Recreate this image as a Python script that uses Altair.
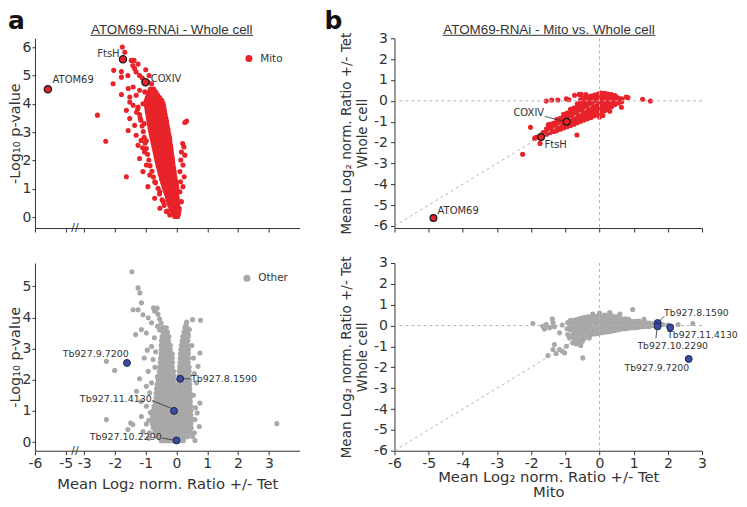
import altair as alt
import pandas as pd

RED = "#e8232a"
GRAY = "#a8a8a8"
BLUE = "#3a4ca0"
INK = "#333333"
FONT = "DejaVu Sans"
TFONT = "Liberation Sans"

# ---------------- panel a, top: Mito proteins, whole cell volcano ----------------
# rows: (-log10 p, [mean log2 ratio ...])
TL_ROWS = [
    (0.03, [-0.06, -0.01, 0.04]),
    (0.12, [-0.1, -0.04, 0.02, 0.07]),
    (0.22, [-0.14, -0.08, -0.02, 0.04, 0.08, -0.3]),
    (0.32, [-0.18, -0.12, -0.06, 0.0, 0.06]),
    (0.42, [-0.22, -0.15, -0.09, -0.03, 0.03, -0.4]),
    (0.52, [-0.25, -0.18, -0.12, -0.06, 0.0, 0.05]),
    (0.62, [-0.28, -0.21, -0.15, -0.09, -0.03, 0.03, -0.47]),
    (0.72, [-0.3, -0.23, -0.17, -0.11, -0.05, 0.02]),
    (0.82, [-0.33, -0.26, -0.19, -0.13, -0.07, 0.01, -0.55]),
    (0.92, [-0.36, -0.29, -0.22, -0.15, -0.08, -0.01]),
    (1.02, [-0.39, -0.32, -0.25, -0.18, -0.11, -0.04, 0.01, -0.6]),
    (1.12, [-0.42, -0.35, -0.28, -0.21, -0.14, -0.07, 0.0]),
    (1.22, [-0.45, -0.37, -0.3, -0.23, -0.16, -0.09, -0.02, -0.68]),
    (1.32, [-0.48, -0.4, -0.33, -0.26, -0.19, -0.11, -0.04]),
    (1.42, [-0.5, -0.42, -0.35, -0.28, -0.2, -0.13, -0.05, -0.75]),
    (1.52, [-0.53, -0.45, -0.37, -0.3, -0.22, -0.14, -0.07]),
    (1.62, [-0.55, -0.47, -0.39, -0.31, -0.24, -0.16, -0.08, -0.8]),
    (1.72, [-0.57, -0.49, -0.41, -0.33, -0.25, -0.17, -0.09]),
    (1.82, [-0.6, -0.51, -0.43, -0.35, -0.27, -0.19, -0.11, -0.86]),
    (1.92, [-0.62, -0.53, -0.45, -0.37, -0.29, -0.2, -0.12]),
    (2.02, [-0.64, -0.56, -0.47, -0.39, -0.3, -0.22, -0.13, -0.9]),
    (2.12, [-0.66, -0.58, -0.49, -0.41, -0.32, -0.23, -0.14]),
    (2.22, [-0.68, -0.6, -0.51, -0.42, -0.33, -0.25, -0.16, -0.94]),
    (2.32, [-0.7, -0.62, -0.53, -0.44, -0.35, -0.26, -0.17]),
    (2.42, [-0.72, -0.63, -0.54, -0.45, -0.36, -0.27, -0.18, -0.98]),
    (2.52, [-0.74, -0.65, -0.56, -0.47, -0.38, -0.29, -0.19]),
    (2.62, [-0.76, -0.67, -0.58, -0.49, -0.4, -0.3, -0.21, -1.02]),
    (2.72, [-0.78, -0.69, -0.6, -0.5, -0.41, -0.31, -0.22]),
    (2.82, [-0.8, -0.71, -0.61, -0.52, -0.42, -0.33, -0.23, -1.05]),
    (2.92, [-0.82, -0.72, -0.63, -0.53, -0.44, -0.34, -0.25]),
    (3.02, [-0.84, -0.74, -0.64, -0.55, -0.45, -0.36, -0.27, -1.08]),
    (3.12, [-0.86, -0.76, -0.66, -0.56, -0.47, -0.37, -0.28]),
    (3.22, [-0.87, -0.77, -0.67, -0.58, -0.48, -0.39, -0.3, -1.12]),
    (3.32, [-0.89, -0.79, -0.69, -0.59, -0.5, -0.4, -0.32]),
    (3.42, [-0.9, -0.8, -0.7, -0.61, -0.51, -0.42, -0.33, -1.16]),
    (3.52, [-0.92, -0.82, -0.72, -0.62, -0.53, -0.43, -0.35]),
    (3.62, [-0.93, -0.83, -0.73, -0.64, -0.54, -0.45, -0.37, -1.2]),
    (3.72, [-0.95, -0.85, -0.75, -0.65, -0.56, -0.47, -0.39]),
    (3.82, [-0.96, -0.86, -0.76, -0.67, -0.58, -0.49, -0.4, -1.26]),
    (3.92, [-0.98, -0.88, -0.78, -0.69, -0.6, -0.51, -0.42]),
    (4.02, [-1.0, -0.9, -0.8, -0.7, -0.61, -0.52, -0.44]),
    (4.12, [-0.98, -0.88, -0.78, -0.68, -0.58, -0.48]),
    (4.22, [-0.95, -0.85, -0.75, -0.65, -0.55]),
    (4.32, [-0.92, -0.82, -0.72, -0.62]),
    (4.42, [-0.88, -0.78, -0.68]),
    (4.52, [-0.85, -0.74]),
]
TL_EXTRA = [
    (-1.76, 6.0), (-1.68, 5.82), (-1.47, 5.53), (-1.38, 5.53), (-1.36, 5.24), (-2.04, 5.18),
    (-1.79, 5.14), (-2.06, 4.71), (-1.79, 4.94), (-1.31, 5.12), (-1.2, 5.0), (-1.11, 4.91),
    (-0.89, 5.0), (-0.93, 4.77), (-0.81, 4.71), (-1.79, 4.33), (-1.57, 4.54), (-1.41, 4.59),
    (-1.52, 4.24), (-1.31, 4.3), (-1.2, 4.48), (-1.03, 4.42), (-0.81, 4.48), (-0.71, 4.36),
    (-0.63, 4.28), (-0.56, 4.19), (-0.54, 4.06), (-1.52, 4.06), (-1.41, 3.95), (-1.25, 3.89),
    (-1.09, 4.0), (-2.57, 3.6), (-2.3, 2.68), (-1.63, 1.43), (0.33, 3.39), (0.27, 3.34),
    (0.2, 2.6), (0.24, 2.48), (0.16, 2.3), (0.27, 2.19), (0.14, 2.02), (0.21, 1.84),
    (0.11, 1.61), (0.25, 1.43), (0.13, 1.25), (0.21, 1.08), (0.11, 0.9), (0.16, 0.55),
    (0.09, 0.32), (-1.63, 3.77), (-1.52, 3.48), (-1.36, 3.24), (-1.57, 3.06), (-1.31, 2.89),
    (-1.15, 2.71), (-1.25, 2.54), (-1.04, 2.3), (-1.2, 2.07), (-0.98, 1.84), (-1.09, 1.61),
    (-0.87, 1.49), (-0.71, 1.25), (-0.93, 1.08), (-0.54, 0.9), (-0.71, 0.67), (-0.43, 0.55),
    (-0.54, 0.32), (-0.33, 0.2), (-0.22, 0.08), (-1.42, 5.35), (-1.25, 5.4), (-1.58, 5.0),
    (-1.0, 5.2), (-1.18, 3.5), (-1.3, 3.7), (-1.05, 3.3), (-0.98, 2.7), (-1.1, 2.45),
]
TL_HL_NAME = ["ATOM69", "FtsH", "COXIV"]
TL_HL_X = [-5.58, -1.74, -1.01]
TL_HL_Y = [4.51, 5.57, 4.76]
TL_LAB_LEFT = [("ATOM69", -5.43, 4.84), ("COXIV", -0.84, 4.87)]
TL_LAB_RIGHT = [("FtsH", -1.85, 5.77)]

# ---------------- panel a, bottom: other proteins volcano ----------------
BL_ROWS = [
    (0.04, [-0.5, -0.41, -0.32, -0.23, -0.14, -0.05, 0.04, 0.13, 0.22]),
    (0.17, [-0.62, -0.53, -0.44, -0.35, -0.26, -0.17, -0.08, 0.01, 0.1, 0.19, 0.28, 0.36]),
    (0.31, [-0.7, -0.61, -0.52, -0.43, -0.34, -0.25, -0.16, -0.07, 0.02, 0.11, 0.2, 0.29, 0.38, 0.44]),
    (0.45, [-0.76, -0.67, -0.58, -0.49, -0.4, -0.31, -0.22, -0.13, -0.04, 0.05, 0.14, 0.23, 0.32, 0.41, 0.48]),
    (0.59, [-0.79, -0.7, -0.61, -0.52, -0.43, -0.34, -0.25, -0.16, -0.07, 0.02, 0.11, 0.2, 0.29, 0.38, 0.47]),
    (0.73, [-0.8, -0.71, -0.62, -0.53, -0.44, -0.35, -0.26, -0.17, -0.08, 0.01, 0.1, 0.19, 0.28, 0.37, 0.46, 0.52]),
    (0.87, [-0.79, -0.7, -0.61, -0.52, -0.43, -0.34, -0.25, -0.16, -0.07, 0.02, 0.11, 0.2, 0.29, 0.38, 0.47]),
    (1.01, [-0.76, -0.67, -0.58, -0.49, -0.4, -0.31, -0.22, -0.13, -0.05, 0.03, 0.12, 0.21, 0.3, 0.39, 0.47]),
    (1.15, [-0.73, -0.64, -0.55, -0.46, -0.37, -0.28, -0.19, -0.1, -0.03, 0.04, 0.13, 0.22, 0.31, 0.4, 0.47]),
    (1.29, [-0.7, -0.61, -0.52, -0.43, -0.34, -0.25, -0.16, -0.08, -0.02, 0.03, 0.1, 0.19, 0.28, 0.37, 0.45]),
    (1.43, [-0.67, -0.58, -0.49, -0.4, -0.31, -0.22, -0.13, -0.05, 0.05, 0.13, 0.22, 0.31, 0.39, 0.45]),
    (1.57, [-0.66, -0.57, -0.48, -0.39, -0.3, -0.21, -0.13, -0.05, 0.05, 0.13, 0.21, 0.3, 0.38, 0.44]),
    (1.71, [-0.65, -0.56, -0.47, -0.38, -0.29, -0.2, -0.12, -0.06, 0.06, 0.13, 0.21, 0.29, 0.37, 0.43]),
    (1.85, [-0.63, -0.54, -0.45, -0.36, -0.27, -0.18, -0.11, -0.06, 0.06, 0.13, 0.21, 0.29, 0.36, 0.43]),
    (1.99, [-0.6, -0.51, -0.42, -0.33, -0.24, -0.16, -0.09, 0.07, 0.14, 0.22, 0.3, 0.37, 0.42]),
    (2.13, [-0.58, -0.49, -0.4, -0.31, -0.23, -0.15, -0.09, 0.08, 0.15, 0.22, 0.3, 0.37, 0.42]),
    (2.27, [-0.56, -0.47, -0.38, -0.3, -0.22, -0.15, -0.09, 0.09, 0.16, 0.23, 0.3, 0.36, 0.41]),
    (2.41, [-0.55, -0.46, -0.37, -0.29, -0.21, -0.14, 0.1, 0.17, 0.24, 0.31, 0.37, 0.41]),
    (2.55, [-0.53, -0.45, -0.36, -0.28, -0.2, -0.13, 0.11, 0.18, 0.25, 0.32, 0.38]),
    (2.69, [-0.52, -0.44, -0.35, -0.27, -0.2, -0.14, 0.12, 0.19, 0.26, 0.33, 0.39]),
    (2.83, [-0.5, -0.42, -0.34, -0.26, -0.19, -0.14, 0.13, 0.2, 0.27, 0.33, 0.39]),
    (2.97, [-0.5, -0.42, -0.34, -0.26, -0.2, 0.14, 0.21, 0.28, 0.34, 0.39]),
    (3.11, [-0.5, -0.42, -0.34, -0.27, -0.2, 0.16, 0.23, 0.3, 0.36]),
    (3.25, [-0.49, -0.41, -0.33, -0.26, 0.18, 0.25, 0.31, 0.37]),
    (3.39, [-0.47, -0.39, -0.31, -0.25, 0.2, 0.27, 0.33, 0.38]),
    (3.53, [-0.44, -0.36, -0.29, 0.24, 0.3, 0.36]),
    (3.67, [-0.4, -0.33, 0.27, 0.34]),
]
BL_EXTRA = [
    (-2.28, 2.59), (-2.01, 2.3), (-2.28, 0.72), (-1.33, 3.45), (-1.14, 3.61), (-1.2, 2.03),
    (-1.49, 0.61), (-1.42, 0.56), (-1.14, 0.82), (-0.98, 1.15), (-0.87, 1.58), (-0.92, 2.27),
    (-0.76, 2.65), (-0.81, 3.07), (-0.98, 3.5), (-0.81, 3.83), (-0.92, 3.99), (-0.71, 4.2),
    (-1.09, 4.09), (-1.25, 4.25), (-1.41, 4.25), (-0.65, 1.15), (0.76, 2.86), (0.7, 2.43),
    (0.65, 1.9), (0.76, 1.25), (0.67, 0.93), (0.74, 0.5), (0.52, 0.18), (0.52, 3.93),
    (0.78, 3.91), (0.38, 3.45), (0.42, 3.61), (-1.45, 5.47), (-1.25, 4.95), (-1.19, 4.79),
    (-1.14, 4.47), (3.26, 0.59), (-0.75, 4.31), (-0.68, 4.25), (-0.63, 4.3), (-0.6, 4.1),
    (-0.55, 3.95), (-0.5, 3.82), (-0.62, 3.72), (-0.46, 3.68), (-0.36, 3.58), (-0.55, 3.6),
    (0.3, 3.75), (0.33, 3.85), (0.36, 3.65), (0.28, 3.52), (-1.05, 2.7), (-0.95, 2.95),
    (-1.3, 1.63), (-0.98, 1.79), (-0.81, 1.9), (-1.58, 0.4), (-1.09, 0.34), (-0.88, 0.3),
    (-0.98, 0.58), (-0.9, 0.12), (0.58, 0.3), (0.6, 0.72), (0.55, 1.5), (0.58, 2.2),
    (0.55, 2.7), (0.5, 3.1), (0.62, 1.1), (0.6, 0.05), (-0.85, 0.95), (-0.9, 0.7),
    (-1.15, 1.3), (-0.72, 3.35), (-0.68, 2.9), (-0.7, 2.4), (-0.62, 2.1),
]
BL_HL_NAME = ["Tb927.9.7200", "Tb927.8.1590", "Tb927.11.4130", "Tb927.10.2290"]
BL_HL_X = [-1.61, 0.12, -0.08, 0.0]
BL_HL_Y = [2.54, 2.03, 1.0, 0.05]
BL_LAB_LEFT = [("Tb927.8.1590", 0.47, 2.03)]
BL_LAB_RIGHT = [("Tb927.9.7200", -1.55, 2.84), ("Tb927.11.4130", -0.8, 1.39), ("Tb927.10.2290", -0.48, 0.17)]
BL_LEADERS = [(0.18, 2.03, 0.45, 2.03), (-0.79, 1.33, -0.14, 1.07), (-0.47, 0.13, -0.08, 0.06)]

# ---------------- panel b, top: Mito proteins, mito vs whole cell ----------------
# rows: (mito ratio, [whole-cell ratio ...])
TR_ROWS = [
    (-1.75, [-1.7]),
    (-1.65, [-1.65, -1.52]),
    (-1.55, [-1.6, -1.47, -1.34]),
    (-1.45, [-1.52, -1.39, -1.26, -1.13]),
    (-1.35, [-1.47, -1.34, -1.21, -1.08]),
    (-1.25, [-1.42, -1.29, -1.16, -1.03, -0.9]),
    (-1.15, [-1.36, -1.23, -1.1, -0.97, -0.84]),
    (-1.05, [-1.3, -1.17, -1.04, -0.91, -0.78, -0.65]),
    (-0.95, [-1.24, -1.11, -0.98, -0.85, -0.72, -0.59]),
    (-0.85, [-1.18, -1.05, -0.92, -0.79, -0.66, -0.53, -0.4]),
    (-0.75, [-1.12, -0.99, -0.86, -0.73, -0.6, -0.47, -0.34]),
    (-0.65, [-1.05, -0.92, -0.79, -0.66, -0.53, -0.4, -0.27, -0.14]),
    (-0.55, [-0.98, -0.85, -0.72, -0.59, -0.46, -0.33, -0.2, -0.07, 0.06]),
    (-0.45, [-0.92, -0.79, -0.66, -0.53, -0.4, -0.27, -0.14, -0.01, 0.12]),
    (-0.35, [-0.86, -0.73, -0.6, -0.47, -0.34, -0.21, -0.08, 0.05, 0.18]),
    (-0.25, [-0.8, -0.67, -0.54, -0.41, -0.28, -0.15, -0.02, 0.11, 0.23]),
    (-0.15, [-0.72, -0.59, -0.46, -0.33, -0.2, -0.07, 0.06, 0.18, 0.28]),
    (-0.05, [-0.64, -0.51, -0.38, -0.25, -0.12, 0.01, 0.14, 0.25, 0.33]),
    (0.05, [-0.56, -0.43, -0.3, -0.17, -0.04, 0.09, 0.21, 0.31, 0.37]),
    (0.15, [-0.47, -0.34, -0.21, -0.08, 0.05, 0.17, 0.28, 0.36]),
    (0.25, [-0.38, -0.25, -0.12, 0.01, 0.13, 0.24, 0.33]),
    (0.35, [-0.28, -0.15, -0.02, 0.1, 0.21, 0.3]),
    (0.45, [-0.18, -0.05, 0.07, 0.18, 0.26]),
    (0.55, [-0.1, 0.02, 0.13]),
    (0.65, [-0.04, 0.06]),
]
TR_EXTRA = [
    (-2.25, -2.56), (-2.02, -1.27), (-1.74, -2.04), (-1.56, -0.01), (-1.4, 0.04), (-1.22, 0.04),
    (-0.97, 0.1), (-0.54, 0.31), (-0.66, -1.64), (0.64, -0.31), (0.78, 0.18), (1.26, 0.08),
    (1.49, -0.01), (0.48, 0.19), (0.0, -0.77), (0.83, 0.16), (-0.73, 0.27), (-0.59, 0.31),
    (-1.5, -1.15), (-1.3, -1.45), (-1.85, -1.75), (-1.9, -1.8), (0.1, -0.7), (0.3, -0.5),
    (0.65, 0.1), (-0.9, 0.05), (-0.4, 0.3),
]
TR_HL_NAME = ["ATOM69", "FtsH", "COXIV"]
TR_HL_X = [-4.86, -1.71, -0.96]
TR_HL_Y = [-5.62, -1.73, -1.0]
TR_LAB_LEFT = [("ATOM69", -4.74, -5.29), ("FtsH", -1.61, -2.14)]
TR_LAB_RIGHT = [("COXIV", -1.62, -0.6)]
TR_LEADERS = [(-1.6, -0.75, -1.06, -0.97)]

# ---------------- panel b, bottom: other proteins, mito vs whole cell ----------------
BR_ROWS = [
    (-0.85, [-0.2, -0.05, 0.1, 0.25]),
    (-0.75, [-0.35, -0.2, -0.05, 0.1, 0.25]),
    (-0.65, [-0.45, -0.3, -0.15, 0.0, 0.15, 0.3]),
    (-0.55, [-0.5, -0.35, -0.2, -0.05, 0.1, 0.25, 0.35]),
    (-0.45, [-0.45, -0.3, -0.15, 0.0, 0.15, 0.3, 0.4]),
    (-0.35, [-0.45, -0.3, -0.15, 0.0, 0.15, 0.3, 0.42]),
    (-0.25, [-0.42, -0.28, -0.14, 0.0, 0.14, 0.28, 0.42]),
    (-0.15, [-0.4, -0.26, -0.12, 0.02, 0.16, 0.3, 0.44]),
    (-0.05, [-0.38, -0.24, -0.1, 0.04, 0.18, 0.32, 0.46]),
    (0.05, [-0.35, -0.22, -0.08, 0.06, 0.2, 0.34, 0.48]),
    (0.15, [-0.32, -0.2, -0.06, 0.08, 0.22, 0.36, 0.5]),
    (0.25, [-0.3, -0.17, -0.04, 0.1, 0.24, 0.38, 0.5]),
    (0.35, [-0.27, -0.14, -0.01, 0.12, 0.25, 0.38, 0.48]),
    (0.45, [-0.24, -0.11, 0.02, 0.15, 0.28, 0.42]),
    (0.55, [-0.2, -0.08, 0.04, 0.16, 0.3, 0.44]),
    (0.65, [-0.17, -0.05, 0.07, 0.19, 0.32]),
    (0.75, [-0.15, -0.03, 0.09, 0.21, 0.33]),
    (0.85, [-0.13, -0.02, 0.09, 0.2, 0.3]),
    (0.95, [-0.1, 0.0, 0.1, 0.2]),
    (1.05, [-0.1, 0.0, 0.1, 0.2]),
    (1.15, [-0.08, 0.02, 0.12, 0.22]),
    (1.25, [-0.06, 0.04, 0.14]),
    (1.35, [-0.05, 0.05, 0.14]),
    (1.45, [-0.04, 0.05, 0.12]),
    (1.55, [0.0, 0.08]),
    (1.65, [0.02]),
]
BR_EXTRA = [
    (-1.17, -0.35), (-1.46, -0.11), (-1.56, 0.05), (-1.36, 0.13), (-0.78, -0.83), (-0.97, -0.99),
    (-1.17, -1.15), (-1.02, -1.31), (-0.49, -1.55), (-0.78, -0.43), (-0.58, -0.67), (-0.39, -0.51),
    (-1.36, -1.15), (-1.51, -1.44), (-1.32, -0.91), (-1.09, -1.23), (-1.27, -1.34), (-1.95, 0.1),
    (-1.66, -0.03), (-1.61, -0.16), (-1.38, 0.32), (-1.32, -0.06), (-1.09, 0.03), (-0.93, 0.15),
    (-0.95, -0.15), (-0.93, -0.43), (-0.88, -0.59), (-0.73, -0.67), (-0.63, -0.75), (-0.8, -0.5),
    (-0.7, -0.58), (-0.6, -0.85), (-0.5, -0.75), (-0.45, -0.62), (-0.68, -0.88), (-0.55, -0.95),
    (-0.3, -0.6), (0.97, 0.77), (2.73, 0.1), (1.85, 0.05), (1.75, 0.15), (2.0, 0.02),
    (2.3, 0.05), (1.3, 0.3), (0.6, 0.55), (0.3, 0.62), (0.0, 0.6), (-0.2, 0.55),
]
BR_HL_NAME = ["Tb927.8.1590", "Tb927.10.2290", "Tb927.11.4130", "Tb927.9.7200"]
BR_HL_X = [1.70, 1.70, 2.07, 2.61]
BR_HL_Y = [0.12, -0.04, -0.09, -1.60]
BR_LAB_LEFT = [("Tb927.8.1590", 1.89, 0.62), ("Tb927.11.4130", 1.98, -0.45),
               ("Tb927.10.2290", 1.11, -0.98), ("Tb927.9.7200", 0.73, -2.02)]
BR_LEADERS = [(1.75, 0.22, 1.9, 0.45), (1.68, -0.14, 1.65, -0.62)]

DIAG = [(-6, -6, 0, 0)]
ZERO = [0]
BREAK_AT = [-3.3]

LEFT_TICKS = [-4.6, -3.6, -3, -2, -1, 0, 1, 2, 3]
RIGHT_TICKS = [-6, -5, -4, -3, -2, -1, 0, 1, 2, 3]

# ---------------- tables ----------------
def rows_by_y(rows, extra):
    pts = [(x, y) for y, xs in rows for x in xs] + list(extra)
    return pd.DataFrame(pts, columns=["x", "y"])

def rows_by_x(rows, extra):
    pts = [(x, y) for x, ys in rows for y in ys] + list(extra)
    return pd.DataFrame(pts, columns=["x", "y"])

tl_df = rows_by_y(TL_ROWS, TL_EXTRA).assign(group="Mito")
bl_df = rows_by_y(BL_ROWS, BL_EXTRA).assign(group="Other")
tr_df = rows_by_x(TR_ROWS, TR_EXTRA)
br_df = rows_by_x(BR_ROWS, BR_EXTRA)

def hl(names, xs, ys):
    return pd.DataFrame({"name": names, "x": xs, "y": ys})

def labs(items):
    return pd.DataFrame(items, columns=["name", "x", "y"])

def segs(items):
    return pd.DataFrame(items, columns=["x", "y", "x2", "y2"])

SHIFT = "datum.x < -3.5 ? datum.x + 1.4 : datum.x"
LEFT_LABELS = "datum.value < -3.2 ? '' + round(datum.value - 1.4) : '' + datum.value"
PLAIN = "'' + datum.value"

LX = alt.Scale(domain=[-4.6, 4.0], nice=False, zero=False)
RX = alt.Scale(domain=[-6, 3], nice=False, zero=False)

def left_y_axis(vals):
    return alt.Axis(values=vals, labelExpr=PLAIN, title="-Log₁₀ p-value", tickSize=3,
                    labelPadding=1, titlePadding=0, titleFontSize=14.5, labelOverlap=False)

def right_y_axis():
    return alt.Axis(values=RIGHT_TICKS, labelExpr=PLAIN,
                    title=["Mean Log₂ norm. Ratio +/- Tet", "Whole cell"],
                    tickSize=4, labelPadding=3, titlePadding=4, titleFontSize=13.5,
                    titleLineHeight=16, labelOverlap=False)

def text_layer(df, xf, X, Y, align, size, calc=None):
    c = alt.Chart(df)
    if calc:
        c = c.transform_calculate(xd=calc)
    return c.mark_text(align=align, baseline="middle", font=FONT, fontSize=size, color=INK).encode(
        x=alt.X(xf, scale=X[0], axis=X[1]), y=alt.Y("y:Q", scale=Y[0], axis=Y[1]), text="name:N")

def seg_layer(df, X, Y):
    return alt.Chart(df).mark_rule(color=INK, strokeWidth=0.8).encode(
        x=alt.X("x:Q", scale=X[0], axis=X[1]), y=alt.Y("y:Q", scale=Y[0], axis=Y[1]),
        x2="x2:Q", y2="y2:Q")

def one(txt):
    return pd.DataFrame({"t": [txt]})

def panel_letter(letter, xpos, ypos):
    return alt.Chart(one(letter)).mark_text(
        align="left", baseline="alphabetic", font=FONT, fontSize=25, fontWeight="bold", color="#111"
    ).encode(x=alt.value(xpos), y=alt.value(ypos), text="t:N")

def panel_title(txt, cx, x1, x2):
    t = alt.Chart(one(txt)).mark_text(
        align="center", baseline="alphabetic", font=TFONT, fontSize=13.4, color=INK
    ).encode(x=alt.value(cx), y=alt.value(-4.5), text="t:N")
    u = alt.Chart(one(txt)).mark_rule(color=INK, strokeWidth=1).encode(
        x=alt.value(x1), x2=alt.value(x2), y=alt.value(-3))
    return [t, u]

def break_mark(X, h):
    df = pd.DataFrame({"v": BREAK_AT, "t": ["//"]})
    return alt.Chart(df).mark_text(
        align="center", baseline="middle", font=FONT, fontSize=11, color=INK
    ).encode(x=alt.X("v:Q", scale=X[0], axis=X[1]), y=alt.value(h), text="t:N")

def guides(X, Y):
    dash = dict(color="#b5b5b5", strokeWidth=1, strokeDash=[3, 3])
    zdf = pd.DataFrame({"v": ZERO})
    v = alt.Chart(zdf).mark_rule(**dash).encode(x=alt.X("v:Q", scale=X[0], axis=X[1]))
    h = alt.Chart(zdf).mark_rule(**dash).encode(y=alt.Y("v:Q", scale=Y[0], axis=Y[1]))
    d = alt.Chart(segs(DIAG)).mark_rule(**dash).encode(
        x=alt.X("x:Q", scale=X[0], axis=X[1]), y=alt.Y("y:Q", scale=Y[0], axis=Y[1]),
        x2="x2:Q", y2="y2:Q")
    return [d, v, h]

def legend(lx, ly):
    return alt.Legend(orient="none", legendX=lx, legendY=ly, title=None,
                      symbolType="circle", symbolSize=50, symbolStrokeWidth=0,
                      labelFont=FONT, labelFontSize=10.5, labelColor=INK,
                      labelOffset=6, padding=0)

# ---------------- TL ----------------
TL_X = (LX, alt.Axis(values=LEFT_TICKS, labels=False, title=None, tickSize=4, labelOverlap=False))
TL_Y = (alt.Scale(domain=[-0.38, 6.31], nice=False, zero=False), left_y_axis([0, 1, 2, 3, 4, 5, 6]))

tl_pts = alt.Chart(tl_df).transform_calculate(xd=SHIFT).mark_circle(size=26, opacity=1).encode(
    x=alt.X("xd:Q", scale=TL_X[0], axis=TL_X[1]),
    y=alt.Y("y:Q", scale=TL_Y[0], axis=TL_Y[1]),
    color=alt.Color("group:N", scale=alt.Scale(domain=["Mito"], range=[RED]), legend=legend(209, 15)),
)
tl_hl = alt.Chart(hl(TL_HL_NAME, TL_HL_X, TL_HL_Y)).transform_calculate(xd=SHIFT).mark_circle(
    size=52, fill=RED, stroke="#1a1a1a", strokeWidth=1.3, opacity=1).encode(
    x=alt.X("xd:Q", scale=TL_X[0], axis=TL_X[1]), y=alt.Y("y:Q", scale=TL_Y[0], axis=TL_Y[1]))
TL = alt.layer(
    tl_pts, tl_hl,
    text_layer(labs(TL_LAB_LEFT), "xd:Q", TL_X, TL_Y, "left", 10, SHIFT),
    text_layer(labs(TL_LAB_RIGHT), "xd:Q", TL_X, TL_Y, "right", 10, SHIFT),
    break_mark(TL_X, 190),
    panel_letter("a", -27, -9.5),
    *panel_title("ATOM69-RNAi - Whole cell", 137, 55.5, 218.5),
).properties(width=265, height=190)

# ---------------- BL ----------------
BL_X = (LX, alt.Axis(values=LEFT_TICKS, labelExpr=LEFT_LABELS, title="Mean Log₂ norm. Ratio +/- Tet",
                     tickSize=4, labelPadding=2, titlePadding=6, titleFontSize=14.8, labelOverlap=False))
BL_Y = (alt.Scale(domain=[-0.28, 5.75], nice=False, zero=False), left_y_axis([0, 1, 2, 3, 4, 5]))

bl_pts = alt.Chart(bl_df).transform_calculate(xd=SHIFT).mark_circle(size=26, opacity=1).encode(
    x=alt.X("xd:Q", scale=BL_X[0], axis=BL_X[1]),
    y=alt.Y("y:Q", scale=BL_Y[0], axis=BL_Y[1]),
    color=alt.Color("group:N", scale=alt.Scale(domain=["Other"], range=[GRAY]), legend=legend(207, 10)),
)
bl_hl = alt.Chart(hl(BL_HL_NAME, BL_HL_X, BL_HL_Y)).transform_calculate(xd=SHIFT).mark_circle(
    size=48, fill=BLUE, stroke="#1c2350", strokeWidth=1, opacity=1).encode(
    x=alt.X("xd:Q", scale=BL_X[0], axis=BL_X[1]), y=alt.Y("y:Q", scale=BL_Y[0], axis=BL_Y[1]))
BL = alt.layer(
    bl_pts,
    seg_layer(segs(BL_LEADERS), BL_X, BL_Y),
    bl_hl,
    text_layer(labs(BL_LAB_LEFT), "xd:Q", BL_X, BL_Y, "left", 9.5, SHIFT),
    text_layer(labs(BL_LAB_RIGHT), "xd:Q", BL_X, BL_Y, "right", 9.5, SHIFT),
    break_mark(BL_X, 188),
).properties(width=265, height=188)

# ---------------- TR ----------------
TR_X = (RX, alt.Axis(values=RIGHT_TICKS, labels=False, title=None, tickSize=4, labelOverlap=False))
TR_Y = (alt.Scale(domain=[-6.1, 3], nice=False, zero=False), right_y_axis())

tr_pts = alt.Chart(tr_df).mark_circle(size=26, opacity=1, color=RED).encode(
    x=alt.X("x:Q", scale=TR_X[0], axis=TR_X[1]), y=alt.Y("y:Q", scale=TR_Y[0], axis=TR_Y[1]))
tr_hl = alt.Chart(hl(TR_HL_NAME, TR_HL_X, TR_HL_Y)).mark_circle(
    size=46, fill=RED, stroke="#1a1a1a", strokeWidth=1.2, opacity=1).encode(
    x=alt.X("x:Q", scale=TR_X[0], axis=TR_X[1]), y=alt.Y("y:Q", scale=TR_Y[0], axis=TR_Y[1]))
TR = alt.layer(
    tr_pts,
    *guides(TR_X, TR_Y),
    seg_layer(segs(TR_LEADERS), TR_X, TR_Y),
    tr_hl,
    text_layer(labs(TR_LAB_LEFT), "x:Q", TR_X, TR_Y, "left", 10),
    text_layer(labs(TR_LAB_RIGHT), "x:Q", TR_X, TR_Y, "right", 10),
    panel_letter("b", -70, -9.5),
    *panel_title("ATOM69-RNAi - Mito vs. Whole cell", 154.7, 48.2, 261.2),
).properties(width=308, height=190)

# ---------------- BR ----------------
BR_X = (RX, alt.Axis(values=RIGHT_TICKS, labelExpr=PLAIN,
                     title=["Mean Log₂ norm. Ratio +/- Tet", "Mito"], tickSize=4, labelPadding=2,
                     titlePadding=-1, titleFontSize=14.8, titleLineHeight=15, labelOverlap=False))
BR_Y = (alt.Scale(domain=[-6, 3], nice=False, zero=False), right_y_axis())

br_pts = alt.Chart(br_df).mark_circle(size=26, opacity=1, color=GRAY).encode(
    x=alt.X("x:Q", scale=BR_X[0], axis=BR_X[1]), y=alt.Y("y:Q", scale=BR_Y[0], axis=BR_Y[1]))
br_hl = alt.Chart(hl(BR_HL_NAME, BR_HL_X, BR_HL_Y)).mark_circle(
    size=48, fill=BLUE, stroke="#1c2350", strokeWidth=1, opacity=1).encode(
    x=alt.X("x:Q", scale=BR_X[0], axis=BR_X[1]), y=alt.Y("y:Q", scale=BR_Y[0], axis=BR_Y[1]))
BR = alt.layer(
    br_pts,
    *guides(BR_X, BR_Y),
    seg_layer(segs(BR_LEADERS), BR_X, BR_Y),
    br_hl,
    text_layer(labs(BR_LAB_LEFT), "x:Q", BR_X, BR_Y, "left", 9.3),
).properties(width=308, height=188)

chart = alt.concat(
    TL, TR, BL, BR, columns=2, spacing={"row": 35, "column": 95}, bounds="flush", align="each"
).resolve_scale(
    x="independent", y="independent", color="independent"
).resolve_legend(color="independent").properties(
    padding={"left": -2, "top": 0, "right": 0, "bottom": -1}
).configure_view(stroke="transparent").configure_axis(
    grid=False, domainColor=INK, tickColor=INK, labelColor=INK, titleColor=INK,
    labelFont=FONT, titleFont=FONT, labelFontSize=14, titleFontWeight="normal",
    labelFlush=False, labelOverlap=False, labelBound=False, domainWidth=1, tickWidth=1,
)

chart.save("out.html", embed_options={"renderer": "svg", "actions": False})
